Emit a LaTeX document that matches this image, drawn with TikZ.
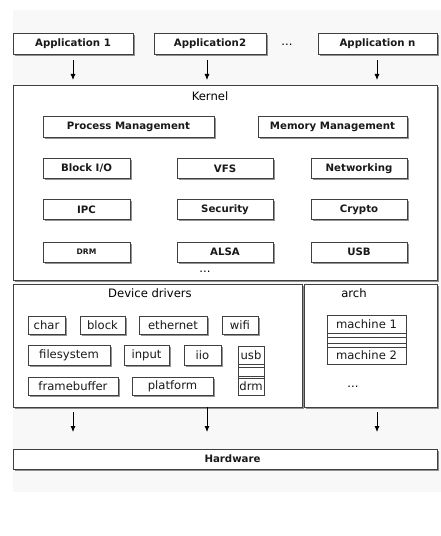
\documentclass[tikz,border=0pt]{standalone}
\usepackage{fontspec}
\setmainfont{DejaVu Sans}
\usetikzlibrary{arrows.meta,shadows}
\definecolor{bg}{HTML}{F8F8F8}
\definecolor{edge}{HTML}{404040}
\tikzset{
  base/.style={draw=edge, line width=0.9bp, fill=white, inner sep=0pt, outer sep=0pt, text=black!90},
  box/.style={base, drop shadow={shadow xshift=1.6bp, shadow yshift=-1.6bp, opacity=0.6, fill=black!70}},
  bfont/.style={font=\fontsize{10.2bp}{12bp}\selectfont\bfseries},
  nfont/.style={font=\fontsize{11.6bp}{13bp}\selectfont},
  kbox/.style={box, bfont, minimum height=20.5bp},
  dbox/.style={box, nfont, minimum height=19bp},
  plain/.style={base, minimum width=26bp},
  lbl/.style={inner sep=0pt, nfont},
  arr/.style={draw=black, line width=0.8bp, -{Latex[length=6bp,width=5bp]}}
}
\begin{document}
\begin{tikzpicture}[x=1bp,y=-1bp]
\useasboundingbox (0,0) rectangle (441,536);
\fill[bg] (13,10) rectangle (441,492);

% applications
\node[kbox, minimum width=120bp, minimum height=21bp] (app1) at (73,43.5) {Application 1};
\node[kbox, minimum width=112bp, minimum height=21bp] (app2) at (210,43.5) {Application2};
\node[kbox, minimum width=119bp, minimum height=21bp] (appn) at (377.5,43.5) {Application n};
\node[lbl] (appdots) at (287,45) {...};

% kernel
\node[box, minimum width=424bp, minimum height=195bp] (kernel) at (225,182.5) {};
\node[lbl] (klbl) at (210,96) {Kernel};
\node[kbox, minimum width=171bp] (pm) at (128.5,127) {Process Management};
\node[kbox, minimum width=149bp] (mm) at (332.5,127) {Memory Management};
\node[kbox, minimum width=87bp] (bio) at (86.5,168.5) {Block I/O};
\node[kbox, minimum width=96bp] (vfs) at (225,168.5) {VFS};
\node[kbox, minimum width=96bp] (net) at (359,168.5) {Networking};
\node[kbox, minimum width=87bp] (ipc) at (86.5,209.5) {IPC};
\node[kbox, minimum width=96bp] (sec) at (225,209.5) {Security};
\node[kbox, minimum width=96bp] (cry) at (359,209.5) {Crypto};
\node[kbox, minimum width=87bp, minimum height=20bp, font=\fontsize{7.6bp}{9bp}\selectfont\bfseries] (drm) at (86.5,252) {DRM};
\node[kbox, minimum width=96bp, minimum height=20bp] (alsa) at (225,252) {ALSA};
\node[kbox, minimum width=96bp, minimum height=20bp] (usb) at (359,252) {USB};
\node[lbl] (kdots) at (205,271.5) {...};

% device drivers
\node[box, minimum width=289bp, minimum height=123bp] (dd) at (157.5,345.5) {};
\node[lbl] (ddlbl) at (150,293) {Device drivers};
\node[dbox, minimum width=37bp, minimum height=18bp] (char) at (46.5,325) {char};
\node[dbox, minimum width=45bp, minimum height=18bp] (block) at (102.5,325) {block};
\node[dbox, minimum width=68bp, minimum height=18bp] (eth) at (173,325) {ethernet};
\node[dbox, minimum width=36bp, minimum height=18bp] (wifi) at (240,325) {wifi};
\node[dbox, minimum width=82bp, minimum height=20bp] (fs) at (69,355) {filesystem};
\node[dbox, minimum width=45bp, minimum height=20bp] (input) at (146.5,355) {input};
\node[dbox, minimum width=37bp, minimum height=20bp] (iio) at (202.5,355) {iio};
\node[dbox, minimum width=90bp, minimum height=18bp] (fb) at (73,386) {framebuffer};
\node[dbox, minimum width=81bp, minimum height=18bp] (plat) at (172.5,386) {platform};
% usb / drm stack
\node[plain, nfont, minimum height=18bp] (dusb) at (251,355) {usb};
\node[plain, minimum height=3bp, anchor=north] (ds1) at (dusb.south) {};
\node[plain, minimum height=9bp, anchor=north] (ds2) at (ds1.south) {};
\node[plain, minimum height=2bp, anchor=north] (ds3) at (ds2.south) {};
\node[plain, nfont, minimum height=17bp, anchor=north] (ddrm) at (ds3.south) {drm};

% arch
\node[box, minimum width=133bp, minimum height=123bp] (arch) at (370.5,345.5) {};
\node[lbl] (archlbl) at (354,293) {arch};
\node[plain, nfont, minimum width=79bp, minimum height=18bp] (m1) at (366.5,324) {machine 1};
\node[plain, minimum width=79bp, minimum height=4bp, anchor=north] (ms1) at (m1.south) {};
\node[plain, minimum width=79bp, minimum height=6bp, anchor=north] (ms2) at (ms1.south) {};
\node[plain, minimum width=79bp, minimum height=4bp, anchor=north] (ms3) at (ms2.south) {};
\node[plain, nfont, minimum width=79bp, minimum height=17bp, anchor=north] (m2) at (ms3.south) {machine 2};
\node[lbl] (archdots) at (353,387) {...};

% hardware
\node[kbox, minimum width=424bp, minimum height=20bp] (hw) at (225,459) {\hspace*{15bp}Hardware};

% arrows
\draw[arr, shorten <=6bp, shorten >=5bp] (app1.south) -- (app1.south |- kernel.north);
\draw[arr, shorten <=6bp, shorten >=5bp] ([xshift=-3bp]app2.south) -- ([xshift=-3bp]app2.south |- kernel.north);
\draw[arr, shorten <=6bp, shorten >=5bp] ([xshift=-0.5bp]appn.south) -- ([xshift=-0.5bp]appn.south |- kernel.north);
\draw[arr, shorten <=5bp, shorten >=17bp] (app1.south |- dd.south) -- (app1.south |- hw.north);
\draw[arr, shorten >=17bp] ([xshift=49.5bp]dd.south) -- ([xshift=49.5bp]dd.south |- hw.north);
\draw[arr, shorten <=5bp, shorten >=17bp] ([xshift=6.5bp]arch.south) -- ([xshift=6.5bp]arch.south |- hw.north);
\end{tikzpicture}
\end{document}
